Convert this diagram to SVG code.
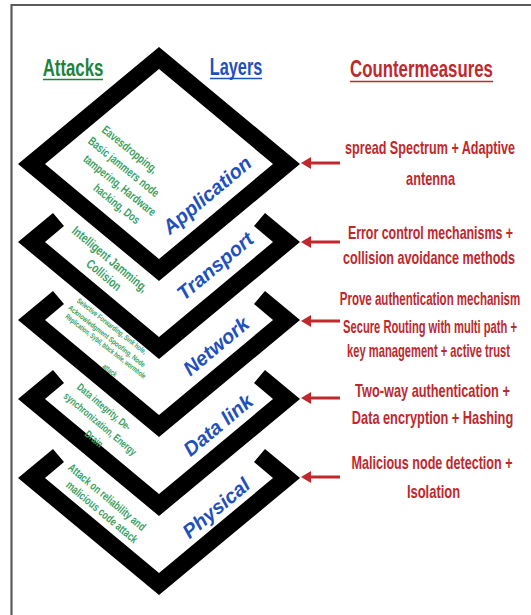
<svg xmlns="http://www.w3.org/2000/svg" width="531" height="615" viewBox="0 0 531 615">
<defs>
<style>
.frame{fill:none;stroke:#5a5a5a;stroke-width:2.2}
.layer{fill:#000;fill-rule:evenodd}
.hd{font-family:"Liberation Sans",Arial,sans-serif;font-weight:bold;font-size:24px;text-anchor:middle}
.ul{stroke-width:1.6}
.cm{font-family:"Liberation Sans",Arial,sans-serif;font-weight:bold;font-size:18px;fill:#c0282d;text-anchor:middle}
.lb{font-family:"Liberation Sans",Arial,sans-serif;font-weight:bold;font-style:italic;font-size:20px;fill:#1e50be;text-anchor:middle;dominant-baseline:central}
.at{font-family:"Liberation Sans",Arial,sans-serif;font-weight:bold;fill:#3c9f64;text-anchor:middle;dominant-baseline:central}
.arr{stroke:#c0282d;stroke-width:3;fill:none;marker-end:url(#ah)}
</style>
<marker id="ah" markerUnits="userSpaceOnUse" markerWidth="10" markerHeight="12" viewBox="0 0 10 12" refX="5" refY="6" orient="auto">
<path d="M0,0 L10,6 L0,12 Z" fill="#c0282d"/>
</marker>
</defs>
<rect width="531" height="615" fill="#fff"/>
<path class="frame" d="M11.5,615 V5 H531"/>

<g id="headings">
<text class="hd" transform="translate(73,76) scale(0.70,1)" fill="#1e823c">Attacks</text>
<line class="ul" x1="43" y1="79.5" x2="103" y2="79.5" stroke="#1e823c"/>
<text class="hd" transform="translate(236,75) scale(0.68,1)" fill="#1e50be">Layers</text>
<line class="ul" x1="210" y1="78.5" x2="262" y2="78.5" stroke="#1e50be"/>
<text class="hd" transform="translate(421.5,77) scale(0.70,1)" fill="#c0282d">Countermeasures</text>
<line class="ul" x1="350" y1="81.5" x2="493" y2="81.5" stroke="#c0282d"/>
</g>

<g id="application">
<path class="layer" d="M159,47 L300,164 L159,281 L18,164 Z M159,69 L45,164 L159,259 L273,164 Z"/>
<text class="lb" transform="translate(207,195) rotate(-40)">Application</text>
</g>
<g id="transport">
<path class="layer" d="M53,213 L18,242 L159,359 L300,242 L265,213 L254,226 L273,242 L159,337 L45,242 L64,226 Z"/>
<text class="lb" transform="translate(215,266) rotate(-40)">Transport</text>
</g>
<g id="network">
<path class="layer" d="M53,291 L18,320 L159,437 L300,320 L265,291 L254,304 L273,320 L159,415 L45,320 L64,304 Z"/>
<text class="lb" transform="translate(216,346) rotate(-40)">Network</text>
</g>
<g id="datalink">
<path class="layer" d="M53,370 L18,399 L159,516 L300,399 L265,370 L254,383 L273,399 L159,494 L45,399 L64,383 Z"/>
<text class="lb" transform="translate(218,425) rotate(-40)">Data link</text>
</g>
<g id="physical">
<path class="layer" d="M53,449 L18,478 L159,595 L300,478 L265,449 L254,462 L273,478 L159,573 L45,478 L64,462 Z"/>
<text class="lb" transform="translate(216,508) rotate(-40)">Physical</text>
</g>

<g id="attacks-application" class="at" font-size="12">
<text transform="translate(130,149) rotate(39) scale(0.75,1)">Eavesdropping,</text>
<text transform="translate(124,166.5) rotate(39) scale(0.75,1)">Basic jammers node</text>
<text transform="translate(120,185) rotate(39) scale(0.75,1)">tampering, Hardware</text>
<text transform="translate(117,203.5) rotate(39) scale(0.75,1)">hacking, Dos</text>
</g>
<g id="attacks-transport" class="at" font-size="13">
<text transform="translate(110,259) rotate(40) scale(0.75,1)">Intelligent Jamming,</text>
<text transform="translate(104,275) rotate(40) scale(0.75,1)">Collision</text>
</g>
<g id="attacks-network" class="at" font-size="7.5">
<text transform="translate(112,326) rotate(38) scale(0.75,1)">Selective Forwarding, Sink hole,</text>
<text transform="translate(107,336) rotate(38) scale(0.8,1)">Acknowledgment Spoofing, Node</text>
<text transform="translate(106,346) rotate(38) scale(0.7,1)">Replication, Sybil, black hole, wormhole</text>
<text transform="translate(110,370) rotate(38) scale(0.75,1)">attack</text>
</g>
<g id="attacks-datalink" class="at" font-size="10.5">
<text transform="translate(104,407) rotate(40) scale(0.75,1)">Data integrity, De-</text>
<text transform="translate(100,424) rotate(40) scale(0.75,1)">synchronization, Energy</text>
<text transform="translate(94,439) rotate(40) scale(0.75,1)">Drain</text>
</g>
<g id="attacks-physical" class="at" font-size="11.5">
<text transform="translate(107,497) rotate(40) scale(0.75,1)">Attack on reliability and</text>
<text transform="translate(102,512) rotate(40) scale(0.75,1)">malicious code attack</text>
</g>

<g id="cm-application" class="cm">
<text transform="translate(430,154) scale(0.70,1)">spread Spectrum + Adaptive</text>
<text transform="translate(430.5,185) scale(0.71,1)">antenna</text>
</g>
<g id="cm-transport" class="cm">
<text transform="translate(430.5,239) scale(0.69,1)">Error control mechanisms +</text>
<text transform="translate(429,264) scale(0.70,1)">collision avoidance methods</text>
</g>
<g id="cm-network" class="cm">
<text transform="translate(430,305) scale(0.64,1)">Prove authentication  mechanism</text>
<text transform="translate(430,333) scale(0.62,1)">Secure Routing with multi path +</text>
<text transform="translate(428.5,357) scale(0.62,1)">key management + active trust</text>
</g>
<g id="cm-datalink" class="cm">
<text transform="translate(432.5,397) scale(0.71,1)">Two-way authentication +</text>
<text transform="translate(432.5,424) scale(0.71,1)">Data encryption +  Hashing</text>
</g>
<g id="cm-physical" class="cm">
<text transform="translate(432,469) scale(0.70,1)">Malicious node detection +</text>
<text transform="translate(433.5,498) scale(0.72,1)">Isolation</text>
</g>

<g id="connectors">
<line class="arr" x1="340" y1="163" x2="306" y2="163"/>
<line class="arr" x1="340" y1="242" x2="306" y2="242"/>
<line class="arr" x1="340" y1="321" x2="306" y2="321"/>
<line class="arr" x1="340" y1="398" x2="306" y2="398"/>
<line class="arr" x1="340" y1="477" x2="306" y2="477"/>
</g>
</svg>
